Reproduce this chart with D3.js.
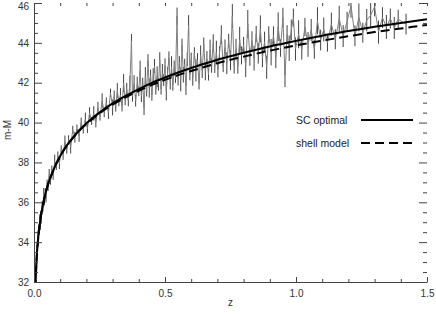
<!DOCTYPE html>
<html>
<head>
<meta charset="utf-8">
<script src="https://cdn.jsdelivr.net/npm/d3@7"></script>
<style>
  body { margin: 0; background: #fff; }
  svg { display: block; }
  text { font-family: "Liberation Sans", Arial, sans-serif; }
</style>
</head>
<body>
<svg id="chart" width="436" height="314"></svg>
<script>
// model curves
var modelZ = [0.005,0.01,0.015,0.02,0.03,0.04,0.05,0.06,0.075,0.1,0.125,0.15,0.175,0.2,0.25,0.3,0.35,0.4,0.45,0.5,
  0.55,0.6,0.65,0.7,0.75,0.8,0.85,0.9,0.95,1.0,1.1,1.2,1.3,1.4,1.5];
var scMu = [31.66,33.18,34.06,34.70,35.59,36.23,36.74,37.15,37.65,38.32,38.85,39.27,39.64,39.96,40.50,40.96,41.34,41.68,41.99,42.26,
  42.51,42.74,42.95,43.15,43.33,43.50,43.66,43.82,43.96,44.10,44.36,44.59,44.81,45.00,45.19];
var shellMu = [31.66,33.18,34.06,34.70,35.59,36.23,36.74,37.14,37.64,38.31,38.84,39.25,39.62,39.93,40.46,40.90,41.27,41.59,41.89,42.14,
  42.38,42.59,42.79,42.98,43.15,43.31,43.46,43.61,43.74,43.87,44.11,44.33,44.54,44.72,44.90];

// supernova data (z, m-M, error)
var snZ = [0.008,0.010,0.011,0.013,0.015,0.016,0.018,0.020,0.022,0.024,
  0.026,0.028,0.031,0.034,0.037,0.040,0.043,0.046,0.050,0.054,
  0.058,0.063,0.068,0.073,0.079,0.085,0.091,0.097,0.104,0.111,
  0.118,0.125,0.132,0.140,0.148,0.156,0.164,0.172,0.180,0.188,
  0.196,0.204,0.212,0.220,0.228,0.236,0.244,0.252,0.260,0.268,
  0.276,0.284,0.292,0.300,
  0.306,0.312,0.318,0.324,0.330,0.336,0.342,0.348,0.354,0.360,
  0.366,0.372,0.376,0.382,0.388,0.394,0.400,0.405,0.410,0.415,
  0.420,0.425,0.430,0.435,0.440,0.445,0.450,0.455,0.460,0.465,
  0.470,0.475,0.480,0.485,0.490,0.495,0.500,0.505,0.510,0.515,
  0.520,0.525,0.530,0.535,0.540,0.546,0.550,0.555,0.560,0.565,
  0.570,0.575,0.580,0.585,0.590,0.595,0.600,0.606,0.612,0.618,
  0.624,0.630,0.636,0.642,0.648,0.654,0.660,0.666,0.672,0.678,
  0.684,0.690,0.696,0.702,0.708,0.715,0.722,0.729,0.736,0.743,
  0.750,
  0.757,0.764,0.771,0.778,0.785,0.792,0.800,0.808,0.816,0.824,
  0.832,0.840,0.848,0.856,0.864,0.872,0.880,0.888,0.896,0.905,
  0.914,0.923,0.932,0.941,0.950,0.958,0.966,0.974,0.982,0.990,
  0.998,1.010,1.022,1.034,1.046,1.058,1.070,1.082,1.094,1.106,
  1.120,1.135,1.150,1.165,1.180,1.195,1.210,1.225,1.240,1.255,
  1.270,1.285,1.300,1.315,1.330,1.345,1.360,1.375,1.390,1.420];
var snMu = [32.79,33.03,33.59,33.65,34.31,34.00,34.62,34.60,35.21,34.90,
  35.37,35.19,35.86,35.76,36.41,36.03,36.49,36.26,36.94,36.81,
  37.38,37.06,37.59,37.34,38.06,37.82,38.32,37.95,38.66,38.39,
  39.05,38.65,39.12,38.80,39.64,39.26,39.68,39.35,40.00,39.66,
  40.16,39.70,40.49,40.08,40.46,40.00,40.74,40.32,41.09,40.52,
  40.99,40.51,41.49,40.76,
  41.31,40.80,41.60,41.04,41.39,40.84,41.98,41.13,41.67,41.11,
  41.95,44.09,41.32,41.96,41.10,41.94,41.58,42.61,41.34,41.97,
  40.75,42.33,41.57,43.10,41.73,42.36,41.39,42.32,42.84,41.67,
  42.30,41.92,43.15,41.68,42.50,42.13,42.86,41.58,42.51,43.23,
  42.06,42.78,41.91,42.73,42.26,45.34,42.21,43.03,42.16,43.88,
  42.40,42.92,41.85,43.17,44.89,42.42,43.14,42.27,43.49,42.62,
  43.14,41.97,43.39,42.62,43.94,42.57,43.19,42.41,43.64,42.86,
  43.99,42.81,43.53,42.66,43.48,44.41,42.83,43.76,42.98,44.11,
  43.13,
  45.35,42.88,43.70,42.83,44.15,43.37,43.90,42.83,44.95,43.28,
  44.10,43.23,44.45,43.48,44.70,43.23,44.06,42.78,44.41,43.53,
  44.36,43.28,44.81,43.74,45.26,42.38,44.41,43.73,44.65,45.27,
  43.69,44.43,43.66,44.79,43.92,44.65,43.68,45.11,44.14,44.67,
  44.01,44.94,44.18,45.21,44.34,45.08,45.86,44.35,45.28,44.51,
  45.14,45.38,45.81,44.54,45.27,44.80,45.22,44.75,45.18,44.94];
var snErr = [0.22,0.18,0.25,0.2,0.28,0.17,0.21,0.24,0.19,0.3,
  0.2,0.26,0.18,0.23,0.31,0.19,0.22,0.27,0.2,0.24,
  0.29,0.18,0.25,0.21,0.33,0.2,0.23,0.28,0.19,0.26,
  0.3,0.21,0.24,0.35,0.2,0.27,0.22,0.32,0.25,0.21,
  0.34,0.23,0.28,0.2,0.36,0.24,0.3,0.22,0.38,0.25,
  0.27,0.33,0.21,0.4,
  0.3,0.25,0.38,0.22,0.34,0.28,0.45,0.26,0.32,0.29,
  0.4,0.35,0.27,0.42,0.3,0.36,0.24,0.5,0.31,0.28,
  0.37,0.45,0.26,0.33,0.48,0.3,0.29,0.41,0.35,0.27,
  0.52,0.32,0.38,0.28,0.44,0.3,0.36,0.47,0.29,0.34,
  0.4,0.55,0.31,0.38,0.27,0.43,0.35,0.3,0.6,0.33,
  0.39,0.28,0.46,0.34,0.5,0.3,0.37,0.42,0.29,0.56,
  0.35,0.31,0.48,0.38,0.33,0.45,0.4,0.3,0.52,0.36,
  0.44,0.32,0.58,0.39,0.35,0.47,0.3,0.41,0.55,0.34,
  0.49,
  0.6,0.42,0.5,0.38,0.65,0.45,0.4,0.55,0.7,0.43,
  0.48,0.62,0.4,0.52,0.68,0.45,0.5,0.58,0.42,0.66,
  0.47,0.55,0.72,0.44,0.5,0.6,0.48,0.64,0.52,0.45,
  0.58,0.7,0.5,0.46,0.62,0.55,0.48,0.68,0.52,0.6,
  0.45,0.58,0.5,0.65,0.55,0.48,0.6,0.52,0.7,0.5,
  0.56,0.62,0.48,0.58,0.52,0.6,0.5,0.55,0.48,0.52];

// axes
var xMajor = [0, 0.5, 1.0, 1.5];
var xMinor = [0.1,0.2,0.3,0.4,0.6,0.7,0.8,0.9,1.1,1.2,1.3,1.4];
var yMajor = [32, 34, 36, 38, 40, 42, 44, 46];
var yMinor = [32.5,33,33.5,34.5,35,35.5,36.5,37,37.5,38.5,39,39.5,40.5,41,41.5,42.5,43,43.5,44.5,45,45.5];

var legendNames = ["SC optimal", "shell model"];

var mLeft = 34, mRight = 427, mTop = 3, mBottom = 282;
var svg = d3.select("#chart");

var x = d3.scaleLinear().domain([0, 1.5]).range([mLeft, mRight]);
var y = d3.scaleLinear().domain([32, 46]).range([mBottom, mTop]);

svg.append("defs").append("clipPath").attr("id", "plotclip")
  .append("rect").attr("x", mLeft).attr("y", mTop)
  .attr("width", mRight - mLeft).attr("height", mBottom - mTop);

var plot = svg.append("g").attr("clip-path", "url(#plotclip)");

var pts = snZ.map(function(z, i) { return { z: z, mu: snMu[i], err: snErr[i] }; });

// black error bars
plot.append("g")
  .selectAll("line")
  .data(pts)
  .enter()
  .append("line")
  .attr("x1", d => x(d.z)).attr("x2", d => x(d.z))
  .attr("y1", d => y(d.mu - d.err)).attr("y2", d => y(d.mu + d.err))
  .attr("stroke", "#111")
  .attr("stroke-width", 0.8);

// gray data line
var dataLine = d3.line().x(d => x(d.z)).y(d => y(d.mu));
plot.append("path")
  .attr("d", dataLine(pts))
  .attr("fill", "none")
  .attr("stroke", "#808080")
  .attr("stroke-width", 1);

// model curves
var modelLine = d3.line().curve(d3.curveMonotoneX).x(d => x(d[0])).y(d => y(d[1]));
plot.append("path")
  .attr("d", modelLine(modelZ.map((z, i) => [z, scMu[i]])))
  .attr("fill", "none").attr("stroke", "#000").attr("stroke-width", 2);
plot.append("path")
  .attr("d", modelLine(modelZ.map((z, i) => [z, shellMu[i]])))
  .attr("fill", "none").attr("stroke", "#000").attr("stroke-width", 2)
  .attr("stroke-dasharray", "9,5");

// axes
function styleAxis(g) {
  g.selectAll("line").attr("stroke", "#444");
  g.selectAll("path").attr("stroke", "#444");
  g.selectAll("text").attr("fill", "#333").style("font-size", "10px")
    .style("font-family", "'Liberation Sans', Arial, sans-serif");
}

svg.append("g").attr("transform", `translate(0,${mBottom})`)
  .call(d3.axisBottom(x).tickValues(xMajor).tickSizeInner(-5).tickSizeOuter(0)
    .tickPadding(8).tickFormat(d3.format(".1f")))
  .call(styleAxis);
svg.append("g").attr("transform", `translate(0,${mBottom})`)
  .call(d3.axisBottom(x).tickValues(xMinor).tickSize(-3).tickFormat(""))
  .call(g => g.select(".domain").remove())
  .call(styleAxis);

svg.append("g").attr("transform", `translate(0,${mTop})`)
  .call(d3.axisTop(x).tickValues(xMajor.concat(xMinor)).tickSize(-3).tickFormat(""))
  .call(g => g.select(".domain").remove())
  .call(styleAxis);

svg.append("g").attr("transform", `translate(${mLeft},0)`)
  .call(d3.axisLeft(y).tickValues(yMajor).tickSizeInner(-8).tickSizeOuter(0).tickPadding(5))
  .call(styleAxis);
svg.append("g").attr("transform", `translate(${mLeft},0)`)
  .call(d3.axisLeft(y).tickValues(yMinor).tickSize(-4).tickFormat(""))
  .call(g => g.select(".domain").remove())
  .call(styleAxis);

svg.append("g").attr("transform", `translate(${mRight},0)`)
  .call(d3.axisRight(y).tickValues(yMajor).tickSize(-8).tickFormat(""))
  .call(g => g.select(".domain").remove())
  .call(styleAxis);
svg.append("g").attr("transform", `translate(${mRight},0)`)
  .call(d3.axisRight(y).tickValues(yMinor).tickSize(-4).tickFormat(""))
  .call(g => g.select(".domain").remove())
  .call(styleAxis);

// keep the top label inside the picture
svg.selectAll("text").filter(function() { return this.textContent === "46"; })
  .attr("dy", "0.6em");

// axis titles
svg.append("text").attr("x", (mLeft + mRight) / 2).attr("y", 306)
  .attr("text-anchor", "middle").attr("font-size", 10).attr("fill", "#333").text("z");
svg.append("text").attr("transform", "translate(11,130) rotate(-90)")
  .attr("text-anchor", "middle").attr("font-size", 10).attr("fill", "#333").text("m-M");

// legend
var legend = svg.append("g");
legendNames.forEach(function(name, i) {
  var ly = 120 + i * 23;
  legend.append("text").attr("x", 296).attr("y", ly + 4)
    .attr("font-size", 10.5).attr("fill", "#222").text(name);
  legend.append("line").attr("x1", 361).attr("x2", 413).attr("y1", ly).attr("y2", ly)
    .attr("stroke", "#000").attr("stroke-width", 2)
    .attr("stroke-dasharray", i == 1 ? "9,5" : null);
});
</script>
</body>
</html>
